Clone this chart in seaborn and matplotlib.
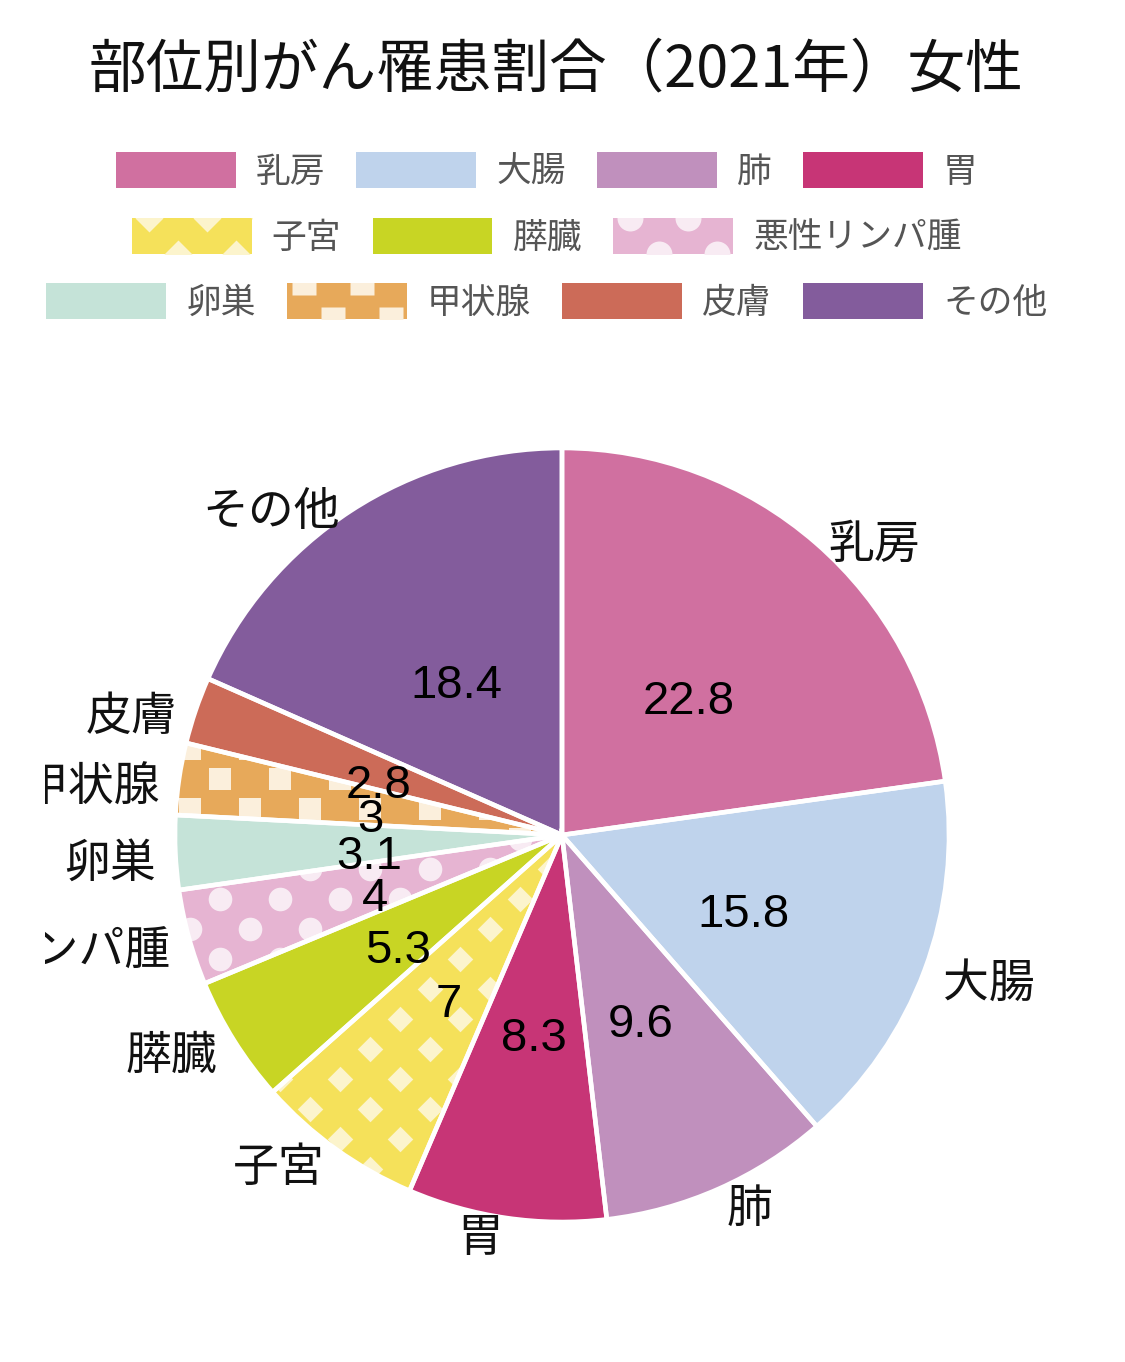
import numpy as np
import pandas as pd
import matplotlib.pyplot as plt
import seaborn as sns
from matplotlib.patches import Rectangle, Patch
from matplotlib.lines import Line2D

# Data
sites = ['乳房', '大腸', '肺', '胃', '子宮', '膵臓', '悪性リンパ腫', '卵巣', '甲状腺', '皮膚', 'その他']
shares = [22.8, 15.8, 9.6, 8.3, 7, 5.3, 4, 3.1, 3, 2.8, 18.4]
colors = ['#d070a0', '#bfd3ec', '#c090bd', '#c73576', '#f5e15a', '#c8d524',
          '#e6b4d2', '#c5e3d8', '#e7a95a', '#cc6b58', '#835c9c']
# overlay patterns (marker, colour, marker size in pt)
patterns = {'子宮': ('D', '#fcf4cc', 13),
            '悪性リンパ腫': ('o', '#f8ebf3', 17),
            '甲状腺': ('s', '#fbefdc', 15.5)}
legend_rows = [['乳房', '大腸', '肺', '胃'],
               ['子宮', '膵臓', '悪性リンパ腫'],
               ['卵巣', '甲状腺', '皮膚', 'その他']]

df = pd.DataFrame({'site': sites, 'share': shares, 'color': colors})
color_of = dict(zip(sites, colors))

sns.set_theme(style='white')
plt.rcParams['font.family'] = ['Noto Sans CJK JP', 'DejaVu Sans']

fig = plt.figure(figsize=(11.25, 13.62), dpi=100)
ax = fig.add_axes([45 / 1125, 62 / 1362, 1035 / 1125, 920 / 1362])
px = 1 / 387  # one pixel in data units

wedges, texts, autotexts = ax.pie(
    df['share'], labels=df['site'], colors=df['color'],
    startangle=90, counterclock=False,
    labeldistance=1.05, pctdistance=0.5, autopct='%.1f',
    wedgeprops=dict(linewidth=0),
    textprops=dict(fontsize=33, color='#111111'))

for t, w in zip(texts, wedges):
    t.set_clip_on(True)
    t.set_clip_box(ax.bbox)
    mid = np.deg2rad((w.theta1 + w.theta2) / 2)
    x, y = t.get_position()
    t.set_position((x, y - (10 + 9 * np.sin(mid)) * px))

for t, v in zip(autotexts, df['share']):
    t.set_text(f'{v:g}')
    t.set_fontsize(34)
    t.set_family(['Liberation Sans', 'DejaVu Sans'])
    t.set_color('black')
    x, y = t.get_position()
    t.set_position((x, y - 13 * px))

# pattern overlays, clipped to their wedge
step = 60 * px
lat_x, lat_y = [], []
for i, yy in enumerate(np.arange(-1.25, 1.25, step / 2)):
    for xx in np.arange(-1.35 + (i % 2) * step / 2, 1.35, step):
        lat_x.append(xx)
        lat_y.append(yy)

for w, name in zip(wedges, sites):
    if name in patterns:
        m, mc, ms = patterns[name]
        sc = ax.scatter(lat_x, lat_y, marker=m, s=ms ** 2, c=mc, linewidths=0, zorder=1.5)
        sc.set_clip_path(w)

# white separators on top
ax.pie(df['share'], startangle=90, counterclock=False, colors=['none'] * len(df),
       wedgeprops=dict(edgecolor='white', linewidth=3.3, zorder=2))

ax.set_xlim(-517 * px, 518 * px)
ax.set_ylim(-465 * px, 455 * px)
ax.set_axis_off()

fig.text(0.4945, 1 - 70 / 1362, '部位別がん罹患割合（2021年）女性', fontsize=41.5,
         ha='center', va='center', color='#111111')


class PatternHandler:
    def __init__(self, marker, mcolor, ms):
        self.marker = marker
        self.mcolor = mcolor
        self.ms = ms

    def legend_artist(self, legend, orig_handle, fontsize, handlebox):
        x0, y0 = -handlebox.xdescent, -handlebox.ydescent
        w, h = handlebox.width, handlebox.height
        tr = handlebox.get_transform()
        box = Rectangle((x0, y0), w, h, facecolor=orig_handle.get_facecolor(),
                        edgecolor='none', transform=tr)
        handlebox.add_artist(box)
        sp = 42
        gx, gy = [], []
        for i, yy in enumerate([y0 + h, y0]):
            for xx in np.arange(x0 + 12 + i * sp / 2, x0 + w + sp, sp):
                gx.append(xx)
                gy.append(yy)
        dots = Line2D(gx, gy, ls='none', marker=self.marker, ms=self.ms * 1.1,
                      mfc=self.mcolor, mec='none', transform=tr)
        dots.set_clip_path(box)
        handlebox.add_artist(dots)
        return box


row_y = [1 - 171 / 1362, 1 - 237 / 1362, 1 - 302 / 1362]
for row, yy in zip(legend_rows, row_y):
    handles, hmap = [], {}
    for name in row:
        p = Patch(facecolor=color_of[name], edgecolor='none')
        handles.append(p)
        if name in patterns:
            hmap[p] = PatternHandler(*patterns[name])
    fig.legend(handles, row, handler_map=hmap, loc='center', bbox_to_anchor=(0.486, yy),
               ncol=len(row), frameon=False, fontsize=25, labelcolor='#555555',
               handlelength=3.45, handleheight=1.2, handletextpad=0.58,
               columnspacing=0.9, borderpad=0)

fig.savefig('out.png', dpi=100, facecolor='white')
